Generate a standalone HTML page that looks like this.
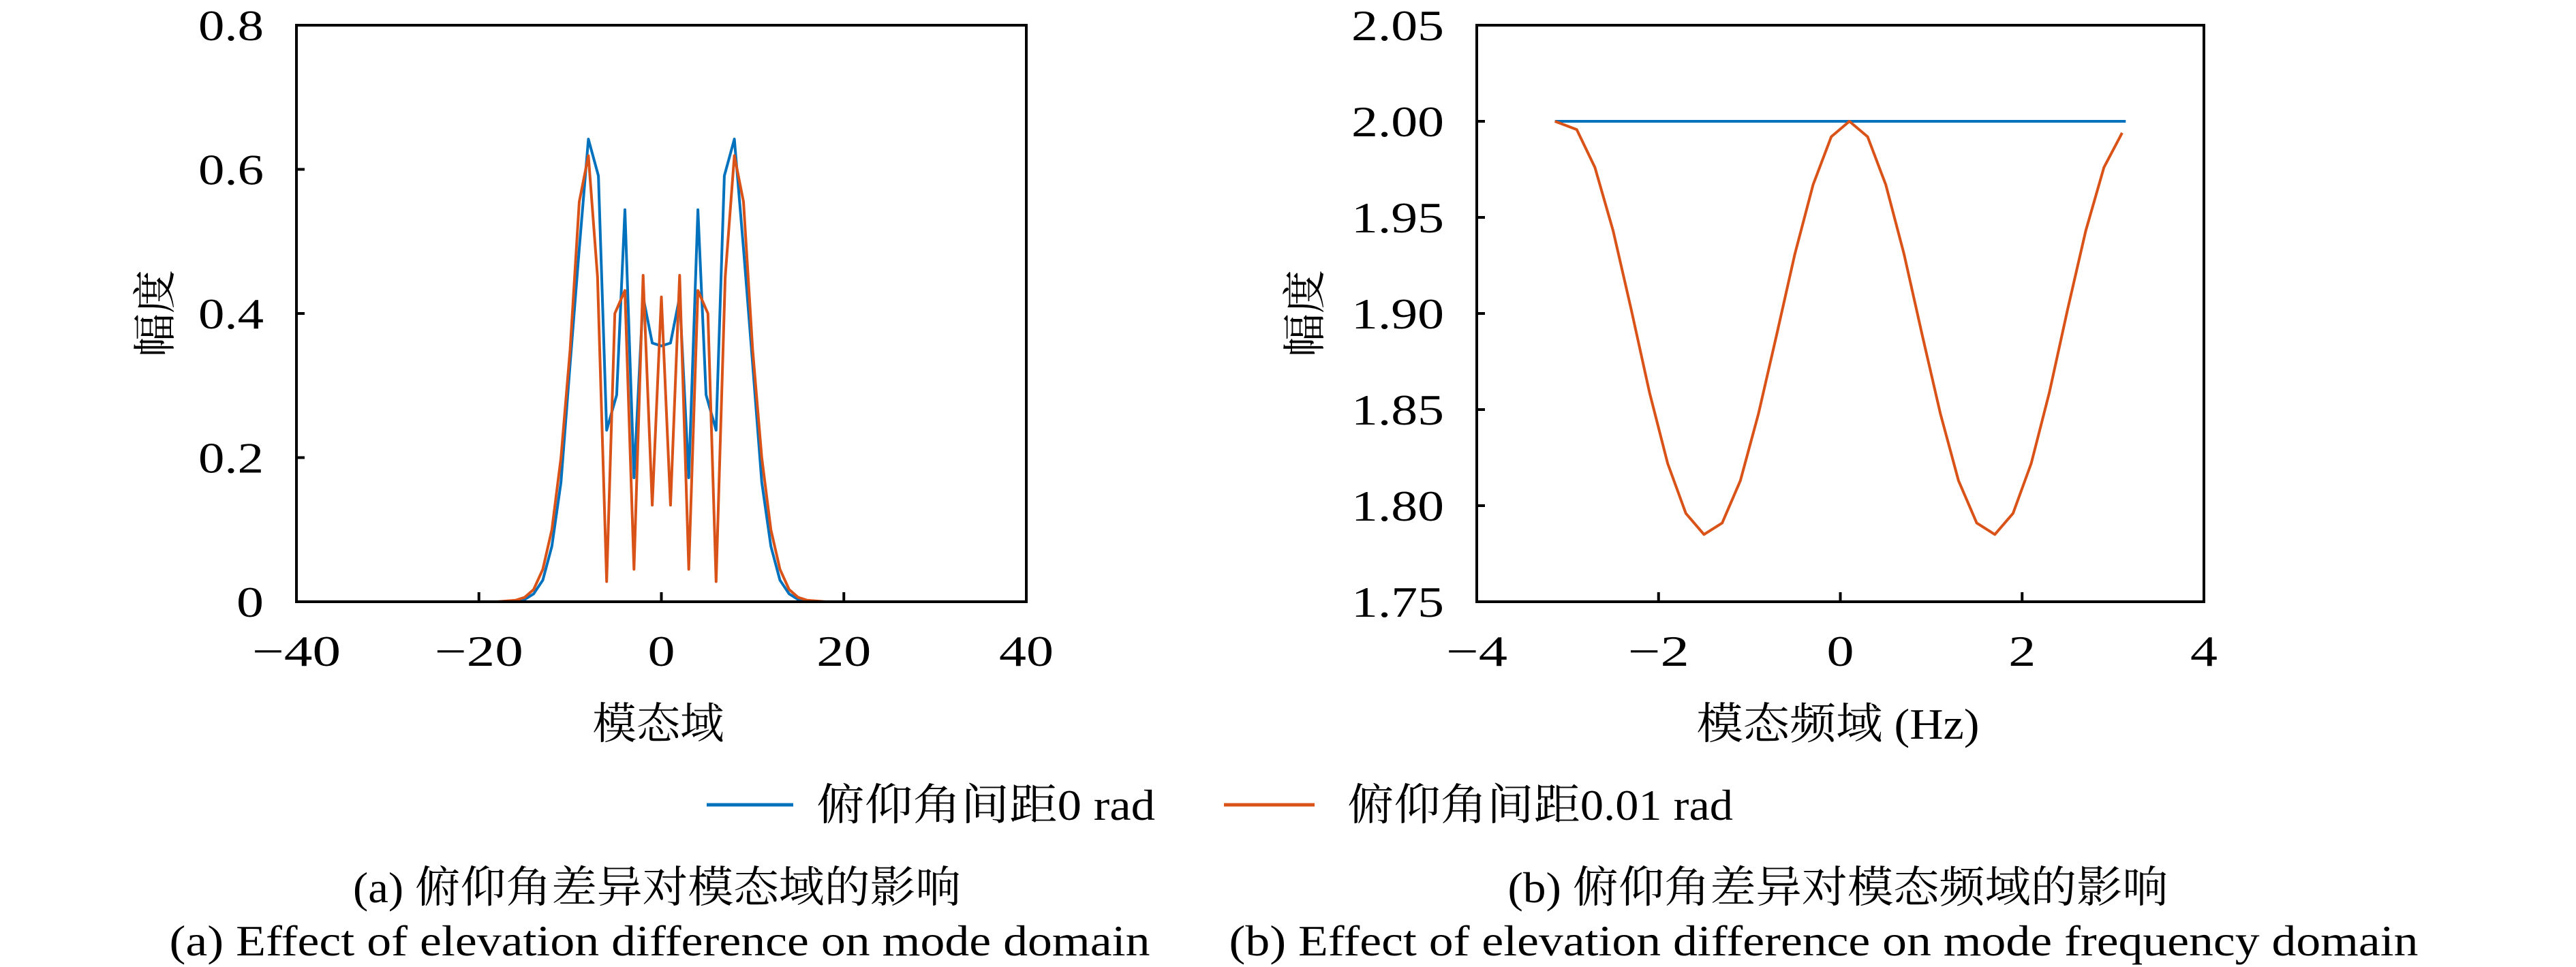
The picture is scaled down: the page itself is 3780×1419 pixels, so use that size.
<!DOCTYPE html>
<html><head><meta charset="utf-8">
<style>
html,body{margin:0;padding:0;background:#fff;}
svg{display:block;}
text{font-family:"Liberation Serif","Noto Serif CJK SC",serif;fill:#000;}
</style></head>
<body>
<svg id="fig" width="3780" height="1419" viewBox="0 0 3780 1419" xmlns="http://www.w3.org/2000/svg">
  <g id="plotA"></g>
  <g id="plotB"></g>
  <text x="0" y="0" font-size="64" text-anchor="middle" transform="translate(250,460) rotate(-90)">幅度</text>
  <text x="0" y="0" font-size="64" text-anchor="middle" transform="translate(1937,460) rotate(-90)">幅度</text>
  <text x="966" y="1084" font-size="64" text-anchor="middle" textLength="193" lengthAdjust="spacingAndGlyphs">模态域</text>
  <text x="2697" y="1084" font-size="64" text-anchor="middle" textLength="415" lengthAdjust="spacingAndGlyphs">模态频域 (Hz)</text>
  <g>
    <line x1="1037" y1="1181" x2="1164" y2="1181" stroke="#0072BD" stroke-width="5"/>
    <text x="1198" y="1203" font-size="64" textLength="497" lengthAdjust="spacingAndGlyphs">俯仰角间距0 rad</text>
    <line x1="1796" y1="1181" x2="1929" y2="1181" stroke="#D95319" stroke-width="5"/>
    <text x="1977" y="1203" font-size="64" textLength="566" lengthAdjust="spacingAndGlyphs">俯仰角间距0.01 rad</text>
  </g>
  <text x="964" y="1324" font-size="64" text-anchor="middle" textLength="892" lengthAdjust="spacingAndGlyphs">(a) 俯仰角差异对模态域的影响</text>
  <text x="2697" y="1324" font-size="64" text-anchor="middle" textLength="969" lengthAdjust="spacingAndGlyphs">(b) 俯仰角差异对模态频域的影响</text>
  <text x="968" y="1402" font-size="64" text-anchor="middle" textLength="1439" lengthAdjust="spacingAndGlyphs">(a) Effect of elevation difference on mode domain</text>
  <text x="2676" y="1402" font-size="64" text-anchor="middle" textLength="1745" lengthAdjust="spacingAndGlyphs">(b) Effect of elevation difference on mode frequency domain</text>
</svg>
<script>
// Chart A data
const aBlueX = [-30,-16,-15,-14,-13,-12,-11,-10,-9,-8,-6.9,-6,-4.9,-4,-3,-2,-1,0,1,2,3,4,4.9,6,6.9,8,9,10,11,12,13,14,15,16,30];
const aBlueY = [0,0,0.003,0.011,0.03,0.077,0.166,0.33,0.49,0.642,0.591,0.238,0.287,0.544,0.172,0.423,0.359,0.355,0.359,0.423,0.172,0.544,0.287,0.238,0.591,0.642,0.49,0.33,0.166,0.077,0.03,0.011,0.003,0,0];
const aOrangeX = [-30,-18,-17,-16,-15,-14,-13,-12,-11,-10,-9,-8,-7,-6,-5.1,-4,-3,-2,-1,0,1,2,3,4,5.1,6,7,8,9,10,11,12,13,14,15,16,17,18,30];
const aOrangeY = [0,0,0.001,0.002,0.006,0.017,0.045,0.10,0.20,0.35,0.555,0.619,0.451,0.028,0.40,0.432,0.045,0.453,0.134,0.423,0.134,0.453,0.045,0.432,0.40,0.028,0.451,0.619,0.555,0.35,0.20,0.10,0.045,0.017,0.006,0.002,0.001,0,0];
const aXTicks = [-40,-20,0,20,40];
const aXTickLabels = ["\u221240","\u221220","0","20","40"];
const aYTicks = [0,0.2,0.4,0.6,0.8];
const aYTickLabels = ["0","0.2","0.4","0.6","0.8"];
// Chart B data
const bBlueX = [-3.14,3.14];
const bBlueY = [2.0,2.0];
const bOrangeX = [-3.14,-3.1,-2.9,-2.7,-2.5,-2.3,-2.1,-1.9,-1.7,-1.5,-1.3,-1.1,-0.9,-0.7,-0.5,-0.3,-0.1,0.1,0.3,0.5,0.7,0.9,1.1,1.3,1.5,1.7,1.9,2.1,2.3,2.5,2.7,2.9,3.1];
const bOrangeY = [2.0,1.9993,1.9957,1.976,1.943,1.902,1.859,1.822,1.796,1.785,1.791,1.813,1.848,1.889,1.931,1.967,1.992,2.0,1.992,1.967,1.931,1.889,1.848,1.813,1.791,1.785,1.796,1.822,1.859,1.902,1.943,1.976,1.994];
const bXTicks = [-4,-2,0,2,4];
const bXTickLabels = ["\u22124","\u22122","0","2","4"];
const bYTicks = [1.75,1.80,1.85,1.90,1.95,2.00,2.05];
const bYTickLabels = ["1.75","1.80","1.85","1.90","1.95","2.00","2.05"];

const NS = "http://www.w3.org/2000/svg";
function mk(tag, attrs, parent){
  const e = document.createElementNS(NS, tag);
  for (const k in attrs) e.setAttribute(k, attrs[k]);
  parent.appendChild(e);
  return e;
}
function labelWidth(s){
  let w = 0;
  for (const c of s) w += (c === "." ? 16 : (c === "\u2212" ? 50 : 40));
  return w;
}
function drawChart(g, box, xmin, xmax, ymin, ymax, xt, xtl, yt, ytl, series){
  const sx = v => box.l + (v - xmin) / (xmax - xmin) * (box.r - box.l);
  const sy = v => box.b - (v - ymin) / (ymax - ymin) * (box.b - box.t);
  series.forEach(s => {
    const pts = s.x.map((v,i) => sx(v).toFixed(1) + "," + sy(s.y[i]).toFixed(1)).join(" ");
    const pl = mk("polyline", {points: pts, fill: "none", stroke: s.color, "stroke-width": 4, "stroke-linejoin": "round"}, g);
    
    
  });
  const frame = mk("rect", {x: box.l, y: box.t, width: box.r - box.l, height: box.b - box.t, fill: "none", stroke: "#000", "stroke-width": 4}, g);
  
  
  xt.forEach((v,i) => {
    const x = sx(v);
    const tk = mk("line", {x1: x, y1: box.b, x2: x, y2: box.b - 14, stroke: "#000", "stroke-width": 4}, g);
    
    
    const t = mk("text", {x: x, y: box.b + 94, "font-size": 64, "text-anchor": "middle", textLength: labelWidth(xtl[i]), lengthAdjust: "spacingAndGlyphs"}, g);
    t.textContent = xtl[i];
    
    
  });
  yt.forEach((v,i) => {
    const y = sy(v);
    const tk = mk("line", {x1: box.l, y1: y, x2: box.l + 12, y2: y, stroke: "#000", "stroke-width": 4}, g);
    
    
    const t = mk("text", {x: box.l - 48, y: y + 22, "font-size": 64, "text-anchor": "end", textLength: labelWidth(ytl[i]), lengthAdjust: "spacingAndGlyphs"}, g);
    t.textContent = ytl[i];
    
    
  });
}
drawChart(document.getElementById("plotA"), {l:435, r:1506, t:37, b:883}, -40, 40, 0, 0.8,
  aXTicks, aXTickLabels, aYTicks, aYTickLabels,
  [{x:aBlueX, y:aBlueY, color:"#0072BD", name:"series-0rad"},
   {x:aOrangeX, y:aOrangeY, color:"#D95319", name:"series-001rad"}]);
drawChart(document.getElementById("plotB"), {l:2167, r:3234, t:37, b:883}, -4, 4, 1.75, 2.05,
  bXTicks, bXTickLabels, bYTicks, bYTickLabels,
  [{x:bBlueX, y:bBlueY, color:"#0072BD", name:"series-0rad"},
   {x:bOrangeX, y:bOrangeY, color:"#D95319", name:"series-001rad"}]);
</script>
</body></html>
